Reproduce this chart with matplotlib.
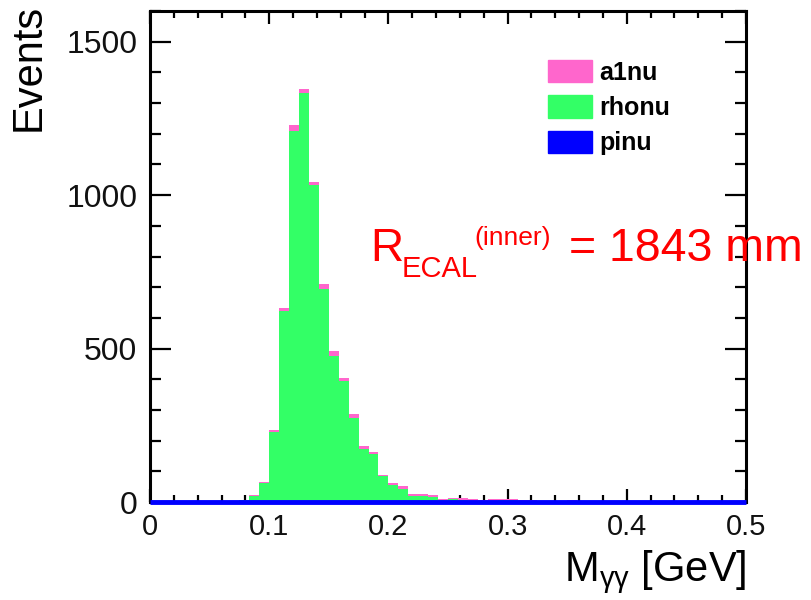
import numpy as np
import matplotlib
matplotlib.use("Agg")
import matplotlib.pyplot as plt
from matplotlib.patches import Patch
from matplotlib.ticker import MultipleLocator

plt.rcParams['font.family'] = ['Liberation Sans', 'DejaVu Sans']
plt.rcParams['mathtext.fontset'] = 'custom'
plt.rcParams['mathtext.rm'] = 'Liberation Sans'
plt.rcParams['mathtext.it'] = 'Liberation Sans:italic'

# 60 bins from 0 to 0.5 GeV
nbins = 60
xmin, xmax = 0.0, 0.5
edges = np.linspace(xmin, xmax, nbins + 1)

# counts per bin
rhonu = np.array([0, 0, 0, 0, 0, 0, 0, 0,
                  0, 5, 19, 61, 229, 621, 1210, 1332, 1033, 693,
                  477, 395, 275, 174, 156, 84, 55, 43, 20, 20,
                  16, 5, 10, 6, 4, 2, 1, 5, 5,
                  0, 0, 0, 0, 0, 0, 0, 0, 0, 0, 0, 0, 0, 0, 0,
                  0, 0, 0, 0, 0, 0, 0, 0])
a1nu = np.array([0, 0, 0, 0, 0, 0, 0, 0,
                 3, 3, 4, 4, 6, 10, 18, 14, 10, 16,
                 14, 10, 11, 9, 7, 5, 8, 8, 6, 6,
                 6, 4, 2, 6, 5, 5, 9, 5, 5,
                 5, 5, 3, 3, 3, 6, 0, 0, 0, 3, 3, 0, 3, 0, 0,
                 3, 3, 0, 0, 0, 0, 0, 0])
pinu = np.zeros(nbins)

labels = ["a1nu", "rhonu", "pinu"]
col_a1 = "#ff66cc"
col_rho = "#33ff66"
col_pi = "#0000ff"

fig = plt.figure(figsize=(8.12, 6.0), dpi=100)
ax = fig.add_axes([150/812, 1-502/600, 596/812, 491/600])

# stacked histogram: pinu at bottom, rhonu, then a1nu on top
ax.stairs(pinu + rhonu, edges, baseline=pinu, fill=True, color=col_rho, zorder=2)
ax.stairs(pinu + rhonu + a1nu, edges, baseline=pinu + rhonu, fill=True, color=col_a1, zorder=2)
ax.stairs(pinu, edges, color=col_pi, lw=3.5, zorder=5, clip_on=False)

ax.set_xlim(xmin, xmax)
ax.set_ylim(0, 1600)

ax.xaxis.set_major_locator(MultipleLocator(0.1))
ax.xaxis.set_minor_locator(MultipleLocator(0.02))
ax.yaxis.set_major_locator(MultipleLocator(500))
ax.yaxis.set_minor_locator(MultipleLocator(100))
ax.xaxis.set_major_formatter(plt.FuncFormatter(lambda v, p: "0" if v == 0 else f"{v:g}"))

ax.tick_params(axis='both', which='both', direction='in', top=True, right=True, width=1.6, colors='black')
ax.tick_params(axis='y', which='major', length=15, labelsize=23, pad=9)
ax.tick_params(axis='y', which='minor', length=8)
ax.tick_params(axis='x', which='major', length=9.5, labelsize=21, pad=8)
ax.tick_params(axis='x', which='minor', length=5)
for lab in ax.get_xticklabels() + ax.get_yticklabels():
    lab.set_color('#111111')
for s in ax.spines.values():
    s.set_linewidth(2.2)

ax.set_ylabel("Events", fontsize=30, loc='top')
ax.yaxis.set_label_coords(-0.17, 1.014)
ax.set_xlabel(r"M$_{\mathregular{γγ}}$ [GeV]", fontsize=30, loc='right')
ax.xaxis.set_label_coords(1.0, -0.095)

handles = [Patch(facecolor=col_a1, edgecolor=col_a1),
           Patch(facecolor=col_rho, edgecolor=col_rho),
           Patch(facecolor=col_pi, edgecolor=col_pi)]
ax.legend(handles, labels, loc='upper left', bbox_to_anchor=((548-150)/596, 1-49/491),
          frameon=False, prop={'size': 18, 'weight': 'bold'},
          handlelength=1.75, handleheight=1.0, labelspacing=0.42,
          handletextpad=0.3, borderpad=0.0, borderaxespad=0.0)

# red annotation
red = "#ff0000"
fig.text(370/812, 1-261/600, "R", fontsize=33, color=red, va='baseline', ha='left')
fig.text(402/812, 1-277/600, "ECAL", fontsize=21, color=red, va='baseline', ha='left')
fig.text(474/812, 1-245/600, "(inner)", fontsize=19, color=red, va='baseline', ha='left')
fig.text(569/812, 1-261/600, "= 1843 mm", fontsize=33.5, color=red, va='baseline', ha='left')

fig.savefig("out.png", dpi=100, facecolor='white')
